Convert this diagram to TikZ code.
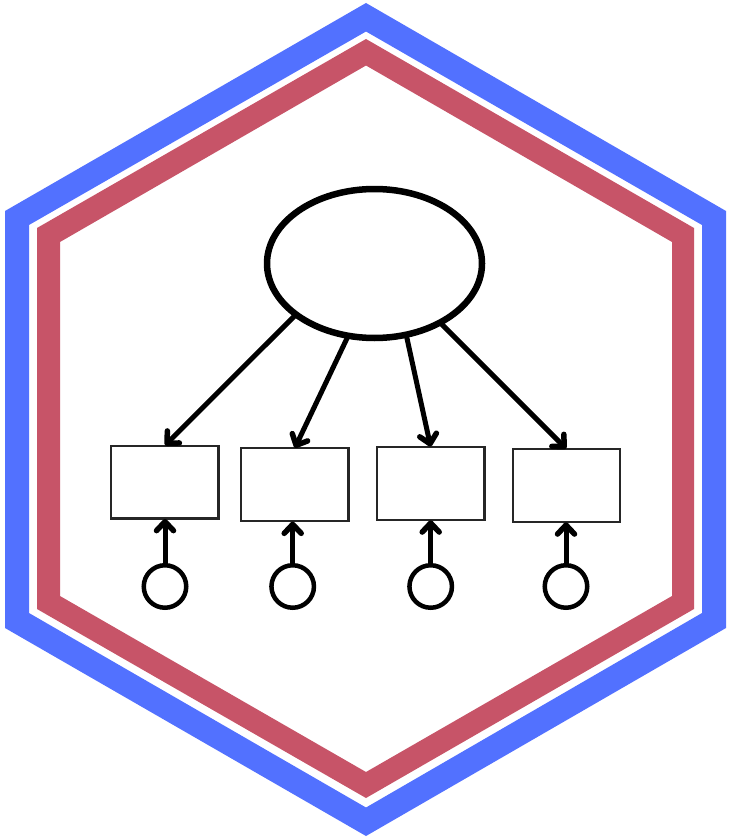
\documentclass[tikz,border=0pt]{standalone}
\usetikzlibrary{arrows.meta,shapes.geometric}
\definecolor{hexblue}{HTML}{5271FF}
\definecolor{hexred}{HTML}{C75468}
\tikzset{
  ring/.style={even odd rule,draw=none},
  obsbox/.style={draw=black!85,line width=2.2pt,rectangle,minimum width=107.6pt,minimum height=72.8pt,inner sep=0pt,outer sep=0pt,fill=white},
  errnode/.style={draw=black,line width=4.5pt,circle,minimum size=42.5pt,inner sep=0pt,outer sep=0pt,fill=white},
  latent/.style={draw=black,line width=6.5pt,ellipse,minimum width=215pt,minimum height=149pt,inner sep=0pt,outer sep=0pt,fill=white},
  load/.style={draw=black,line width=5pt,-{Straight Barb[length=9pt,width=17pt,line width=5.5pt,round]},shorten >=0.5pt},
  errpath/.style={draw=black,line width=5pt,-{Straight Barb[length=9pt,width=17pt,line width=5.5pt,round]},shorten >=0.5pt}
}
\begin{document}
\begin{tikzpicture}[x=1pt,y=-1pt]
\useasboundingbox (0,0) rectangle (736,840);
\fill[white] (0,0) rectangle (736,840);
\fill[hexblue,ring] (366,3) -- (726,211) -- (726,628) -- (366,836) -- (5,628) -- (5,211) -- cycle
  (366,31.5) -- (702,225) -- (702,613) -- (366,807.5) -- (29,613) -- (29,225) -- cycle;
\fill[hexred,ring] (366,39) -- (694,228) -- (694,609) -- (366,798) -- (37,609) -- (37,228) -- cycle
  (366,65.5) -- (672,242) -- (672,596) -- (366,772) -- (60,596) -- (60,242) -- cycle;
\node[latent] (L) at (374.5,263.5) {};
\node[obsbox] (b1) at (164.7,482) {};
\node[obsbox] (b2) at (294.7,484.7) {};
\node[obsbox] (b3) at (430.7,483.4) {};
\node[obsbox] (b4) at (566.5,485.4) {};
\node[errnode] (e1) at (165,586.5) {};
\node[errnode] (e2) at (292.7,586.5) {};
\node[errnode] (e3) at (430.7,586.5) {};
\node[errnode] (e4) at (566,586.5) {};
\draw[load] (L.213.5) -- (b1.north);
\draw[load] (L.250) -- (b2.north);
\draw[load] (L.294.3) -- (b3.north);
\draw[load] (L.318) -- (b4.north);
\draw[errpath] (e1.north) -- (e1.north |- b1.south);
\draw[errpath] (e2.north) -- (e2.north |- b2.south);
\draw[errpath] (e3.north) -- (e3.north |- b3.south);
\draw[errpath] (e4.north) -- (e4.north |- b4.south);
\end{tikzpicture}
\end{document}
